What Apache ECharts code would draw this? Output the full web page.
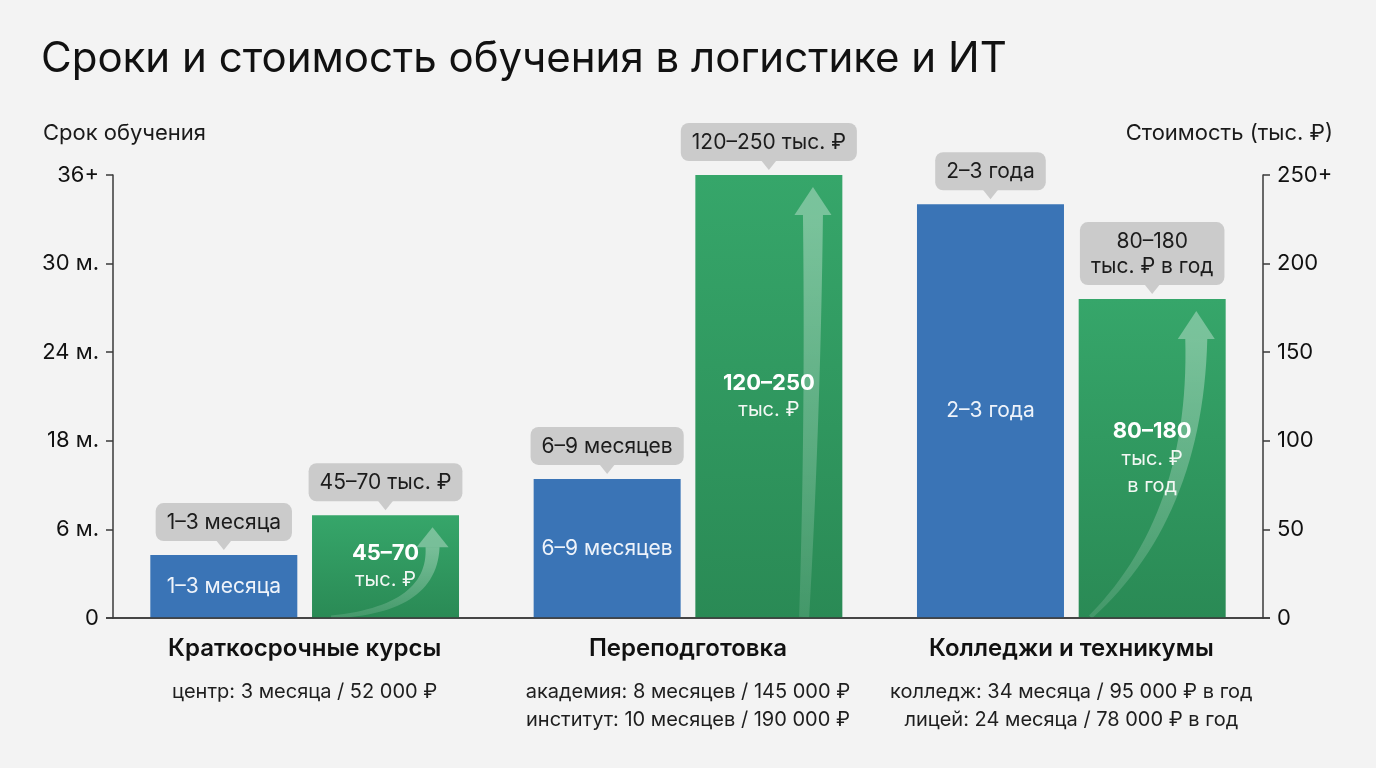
<!DOCTYPE html>
<html>
<head>
<meta charset="utf-8">
<script src="https://cdn.jsdelivr.net/npm/echarts@6/dist/echarts.min.js"></script>
<style>
  html, body { margin: 0; padding: 0; background: #f3f3f3; }
  #chart { width: 1376px; height: 768px; }
</style>
</head>
<body>
<div id="chart"></div>
<script>
// data
const categories = ['Краткосрочные курсы', 'Переподготовка', 'Колледжи и техникумы']
const categoryNotes = [
    ['центр: 3 месяца / 52 000 ₽'],
    ['академия: 8 месяцев / 145 000 ₽', 'институт: 10 месяцев / 190 000 ₽'],
    ['колледж: 34 месяца / 95 000 ₽ в год', 'лицей: 24 месяца / 78 000 ₽ в год']
]
const durationTicks = ['0', '6 м.', '18 м.', '24 м.', '30 м.', '36+']
const costTicks = ['0', '50', '100', '150', '200', '250+']
// duration bars in tick steps of the left axis, cost bars in thousand rubles
const durationBars = [0.71, 1.57, 4.67]
const costBars = [58, 250, 180]
const durationLabels = ['1–3 месяца', '6–9 месяцев', '2–3 года']
const costLabels = ['45–70 тыс. ₽', '120–250 тыс. ₽', '80–180\nтыс. ₽ в год']
const costInner = [['45–70', 'тыс. ₽'], ['120–250', 'тыс. ₽'], ['80–180', 'тыс. ₽', 'в год']]

const FONT = 'Inter, "Noto Sans", sans-serif'
const BAR_W = 147
const BAR_GAP = 0.1
const OFFSET = (BAR_W + BAR_W * BAR_GAP) / 2
const LABEL_DIST = 14
const BUBBLE = '#cbcbcb'
const BLUE = '#3a74b6'
const AXIS = '#3a3a3a'

// decorative arrow look for each green bar (fractions of the bar)
const arrowLook = [
    {from: 0.13, to: 0.82, bend: 0.08, w: [3, 14], head: [32, 20]},
    {from: 0.74, to: 0.80, bend: 0.45, w: [10, 20], head: [37, 28]},
    {from: 0.08, to: 0.80, bend: 0.32, w: [4, 22], head: [37, 28]}
]

let chart = echarts.init(document.getElementById('chart'))

function geom(api, side) {
    let base = api.coord([api.value(0), 0])
    let top = api.coord([api.value(0), api.value(1)])
    let cx = base[0] + side * OFFSET
    return {cx: cx, x0: cx - BAR_W / 2, yT: top[1], yB: base[1], h: base[1] - top[1]}
}

function pointer(g) {
    let y = g.yT - LABEL_DIST
    return {
        type: 'polygon',
        shape: {points: [[g.cx - 8, y - 1], [g.cx + 8, y - 1], [g.cx, y + 9]]},
        style: {fill: BUBBLE}
    }
}

function arrow(g, a) {
    let tipY = g.yT + 12
    let p0 = [g.x0 + a.from * BAR_W, g.yB - 1]
    let p2 = [g.x0 + a.to * BAR_W, tipY + a.head[1]]
    let p1 = [p2[0], g.yB - a.bend * g.h]
    let left = [], right = []
    for (let i = 0; i <= 30; i++) {
        let t = i / 30, u = 1 - t
        let x = u * u * p0[0] + 2 * u * t * p1[0] + t * t * p2[0]
        let y = u * u * p0[1] + 2 * u * t * p1[1] + t * t * p2[1]
        let dx = 2 * u * (p1[0] - p0[0]) + 2 * t * (p2[0] - p1[0])
        let dy = 2 * u * (p1[1] - p0[1]) + 2 * t * (p2[1] - p1[1])
        let len = Math.sqrt(dx * dx + dy * dy) || 1
        let nx = -dy / len, ny = dx / len
        let w = (a.w[0] + (a.w[1] - a.w[0]) * t) / 2
        left.push([x + nx * w, y + ny * w])
        right.unshift([x - nx * w, y - ny * w])
    }
    return [
        {
            type: 'polygon',
            shape: {points: left.concat(right)},
            style: {
                fill: new echarts.graphic.LinearGradient(0, 0, 0, 1, [
                    {offset: 0, color: 'rgba(255,255,255,0.34)'},
                    {offset: 1, color: 'rgba(255,255,255,0.12)'}
                ])
            }
        },
        {
            type: 'polygon',
            shape: {points: [[p2[0] - a.head[0] / 2, p2[1]], [p2[0] + a.head[0] / 2, p2[1]], [p2[0], tipY]]},
            style: {fill: 'rgba(255,255,255,0.34)'}
        }
    ]
}

function renderDuration(params, api) {
    let i = params.dataIndex
    let g = geom(api, -1)
    return {
        type: 'group',
        children: [
            pointer(g),
            {
                type: 'text',
                z2: 20,
                style: {
                    text: durationLabels[i], x: g.cx, y: (g.yT + g.yB) / 2,
                    align: 'center', verticalAlign: 'middle',
                    fill: '#eef3fa', fontSize: 21, fontFamily: FONT
                }
            }
        ]
    }
}

function renderCost(params, api) {
    let i = params.dataIndex
    let g = geom(api, 1)
    let lines = costInner[i]
    let text = '{b|' + lines[0] + '}' + lines.slice(1).map(l => '\n{n|' + l + '}').join('')
    return {
        type: 'group',
        children: arrow(g, arrowLook[i]).concat([
            pointer(g),
            {
                type: 'text',
                z2: 20,
                style: {
                    text: text, x: g.cx, y: (g.yT + g.yB) / 2,
                    align: 'center', verticalAlign: 'middle',
                    rich: {
                        b: {fontSize: 22, fontWeight: 'bold', fontFamily: FONT, fill: '#ffffff', lineHeight: 27},
                        n: {fontSize: 20, fontFamily: FONT, fill: '#f2f7f3', lineHeight: 27}
                    }
                }
            }
        ])
    }
}

// the base line runs a little past both value axes
function renderBase(params, api) {
    let l = api.coord([0, 0]), size = api.size([1, 0])[0]
    let x0 = l[0] - size / 2 - 7, x1 = l[0] + size * 2.5 + 7
    return {
        type: 'line',
        shape: {x1: x0, y1: l[1], x2: x1, y2: l[1]},
        style: {stroke: AXIS, lineWidth: 1.5}
    }
}

const bubble = {
    show: true, position: 'top', distance: LABEL_DIST,
    backgroundColor: BUBBLE, borderRadius: 8, padding: [7, 11, 6, 11],
    color: '#1c1c1c', fontSize: 21, lineHeight: 25, fontFamily: FONT
}

let option = {
    backgroundColor: '#f3f3f3',
    textStyle: {fontFamily: FONT},
    title: [
        {text: 'Сроки и стоимость обучения в логистике и ИТ', left: 36, top: 33,
            textStyle: {fontSize: 42, fontWeight: 'normal', color: '#111', fontFamily: FONT}},
        {text: 'Срок обучения', left: 38, top: 117,
            textStyle: {fontSize: 22, fontWeight: 'normal', color: '#1a1a1a', fontFamily: FONT}},
        {text: 'Стоимость (тыс. ₽)', right: 38, top: 117,
            textStyle: {fontSize: 22, fontWeight: 'normal', color: '#1a1a1a', fontFamily: FONT}}
    ],
    grid: {left: 113, right: 113, top: 175, bottom: 150},
    xAxis: {
        type: 'category',
        data: categories,
        axisTick: {show: false},
        axisLine: {lineStyle: {color: AXIS, width: 1.5}},
        axisLabel: {
            margin: 2,
            formatter: (v, i) => '{b|' + v + '}\n' + categoryNotes[i].map(l => '{s|' + l + '}').join('\n'),
            rich: {
                b: {fontSize: 24, fontWeight: 600, color: '#111', lineHeight: 58, fontFamily: FONT},
                s: {fontSize: 20, color: '#1e1e1e', lineHeight: 28, fontFamily: FONT}
            }
        }
    },
    yAxis: [
        {
            type: 'value', min: 0, max: 5, interval: 1,
            splitLine: {show: false},
            axisLine: {show: true, lineStyle: {color: AXIS, width: 1.5}},
            axisTick: {show: true, length: 7, lineStyle: {color: AXIS, width: 1.5}},
            axisLabel: {margin: 14, fontSize: 22, color: '#111', fontFamily: FONT,
                formatter: v => durationTicks[Math.round(v)]}
        },
        {
            type: 'value', min: 0, max: 250, interval: 50, position: 'right',
            splitLine: {show: false},
            axisLine: {show: true, lineStyle: {color: AXIS, width: 1.5}},
            axisTick: {show: true, length: 7, lineStyle: {color: AXIS, width: 1.5}},
            axisLabel: {margin: 14, fontSize: 22, color: '#111', fontFamily: FONT,
                formatter: v => costTicks[Math.round(v / 50)]}
        }
    ],
    series: [
        {
            name: 'Срок', type: 'bar', yAxisIndex: 0, barWidth: BAR_W, barGap: '10%',
            data: durationBars,
            itemStyle: {color: BLUE},
            label: Object.assign({}, bubble, {formatter: p => durationLabels[p.dataIndex]})
        },
        {
            name: 'Стоимость', type: 'bar', yAxisIndex: 1, barWidth: BAR_W,
            data: costBars,
            itemStyle: {
                color: new echarts.graphic.LinearGradient(0, 0, 0, 1, [
                    {offset: 0, color: '#36a66a'},
                    {offset: 1, color: '#2a8a55'}
                ])
            },
            label: Object.assign({}, bubble, {formatter: p => costLabels[p.dataIndex]})
        },
        {
            type: 'custom', yAxisIndex: 0, z: 3,
            renderItem: renderDuration,
            data: durationBars.map((v, i) => [i, v])
        },
        {
            type: 'custom', yAxisIndex: 1, z: 3,
            renderItem: renderCost,
            data: costBars.map((v, i) => [i, v])
        },
        {
            type: 'custom', yAxisIndex: 0, z: 4, silent: true,
            renderItem: renderBase,
            data: [[0, 0]]
        }
    ]
}

chart.setOption(option)
</script>
</body>
</html>
